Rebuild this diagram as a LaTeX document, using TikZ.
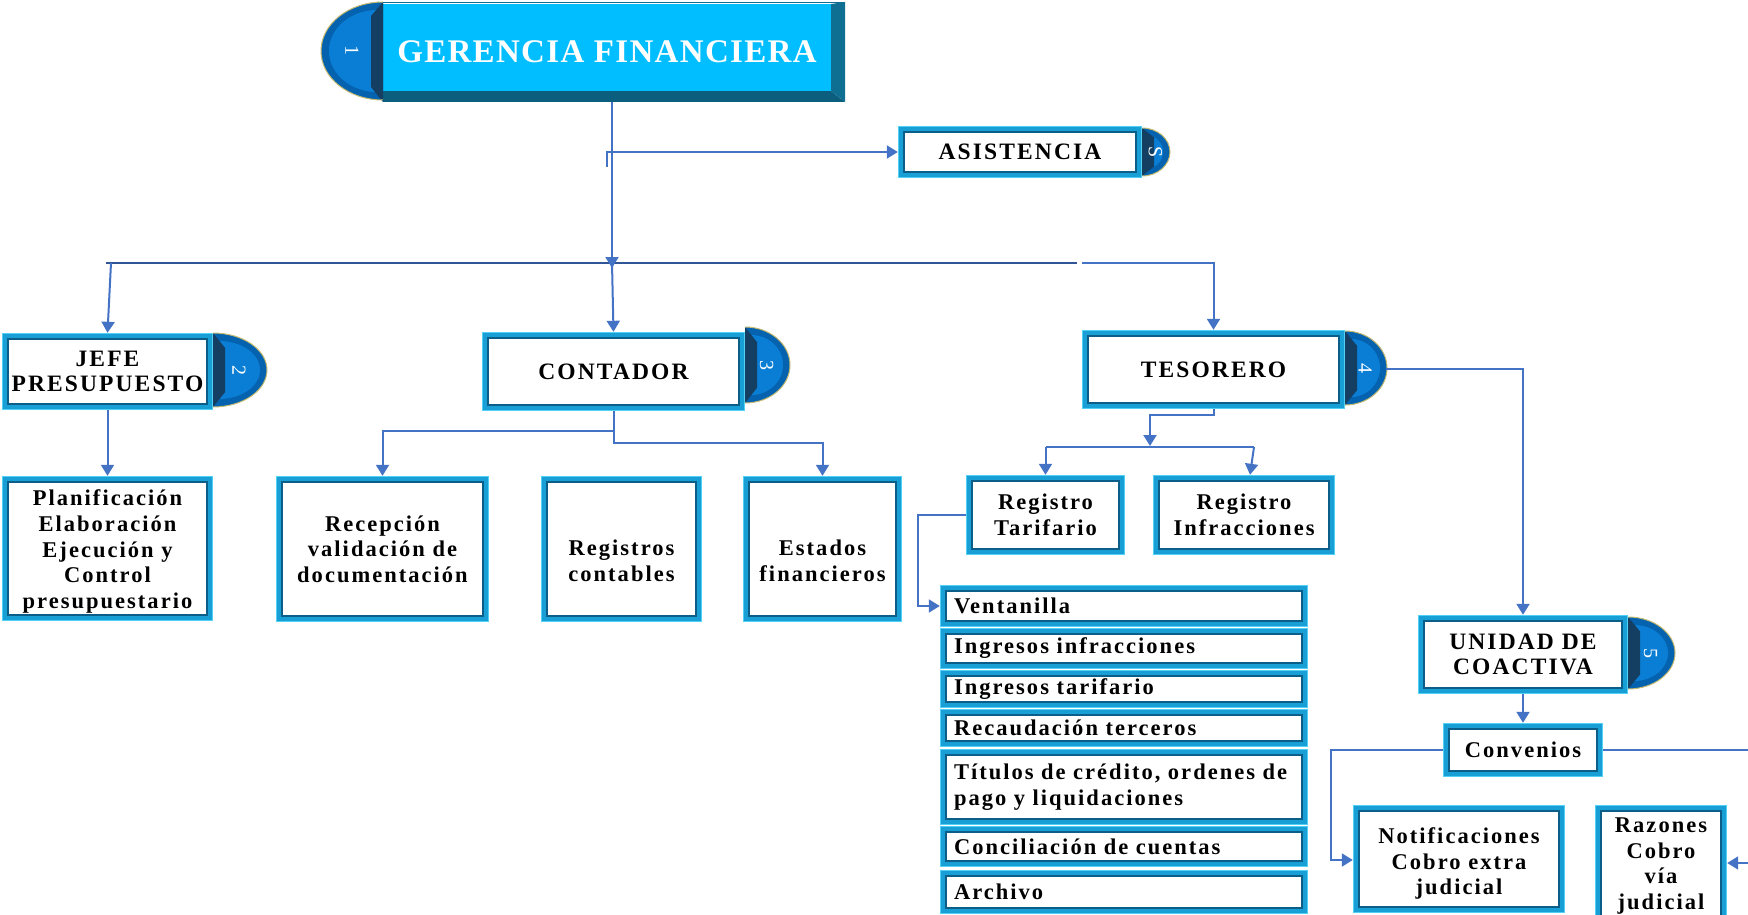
\documentclass[tikz,border=0pt]{standalone}
\usepackage{fontspec}
\setmainfont{Liberation Serif}
\newfontfamily\lsfont{Liberation Serif}[LetterSpace=9]
\newfontfamily\headfont{Liberation Serif}[LetterSpace=4]
\usetikzlibrary{arrows.meta}

\definecolor{connblue}{HTML}{4472C4}
\definecolor{busdark}{HTML}{2F5597}
\definecolor{bandmid}{HTML}{18A0D6}
\definecolor{banddark}{HTML}{0B5E88}
\definecolor{bandlight}{HTML}{52D0F5}
\definecolor{facecyan}{HTML}{00BEFF}
\definecolor{bevelR}{HTML}{0F6F93}
\definecolor{bevelB}{HTML}{0B5E7E}
\definecolor{navy}{HTML}{143F63}
\definecolor{badgeout}{HTML}{0562AE}
\definecolor{badgein}{HTML}{0A7ED4}
\definecolor{badgerim}{HTML}{C4BA72}

% half-ellipse tab on the right side of a box:
% #1 flat side x, #2 centre y, #3 x radius, #4 y radius, #5 node name, #6 number
\newcommand{\sidebadge}[6]{%
  \fill[badgeout] ({#1},{#2-#4}) arc[start angle=-90,end angle=90,x radius={#3},y radius={#4}] -- cycle;
  \fill[badgein] ({#1+6},{#2-#4+8}) arc[start angle=-90,end angle=90,x radius={#3-13},y radius={#4-8}] -- cycle;
  \fill[navy] ({#1},{#2-#4}) -- ({#1+12},{#2-#4*0.6}) -- ({#1+12},{#2+#4*0.6}) -- ({#1},{#2+#4}) -- cycle;
  \draw[badgerim, line width=1pt] ({#1},{#2-#4}) arc[start angle=-90,end angle=90,x radius={#3},y radius={#4}];
  \node[numtxt, rotate=-90] (#5) at ({#1+#3*0.48},{#2}) {#6};
}

\begin{document}
\begin{tikzpicture}[x=1pt, y=-1pt,
  box/.style={rectangle, fill=white, inner sep=0pt, align=center, text=black,
    font=\lsfont\bfseries\fontsize{22.5pt}{25.6pt}\selectfont},
  boxtext/.style={inner sep=0pt, align=center, text=black,
    font=\lsfont\bfseries\fontsize{22.5pt}{25.6pt}\selectfont},
  headbox/.style={box, font=\lsfont\bfseries\fontsize{23.5pt}{24.5pt}\selectfont},
  listbox/.style={box, minimum width=368pt, text width=340pt, align=left},
  conn/.style={draw=connblue, line width=2pt, -{Triangle[length=11pt,width=13pt]}},
  plain/.style={draw=connblue, line width=2pt},
  bus/.style={draw=busdark, line width=2.6pt},
  numtxt/.style={text=white, inner sep=0pt, font=\fontsize{20pt}{20pt}\selectfont}]

\useasboundingbox (0,0) rectangle (1748,915);

% ---------- top box: bevelled cyan block with tab ----------
\fill[bevelB] (383,102) -- (383,91) -- (831,91) -- (845,102) -- cycle;
\fill[bevelR] (831,4) -- (845,2) -- (845,102) -- (831,91) -- cycle;
\fill[facecyan] (383,4) rectangle (831,91);
\draw[bevelR, line width=1.2pt] (383,2.5) -- (845,2.5);
\fill[badgeout] (383,100) arc[start angle=90,end angle=270,x radius=62,y radius=49] -- cycle;
\fill[badgein] (377,92) arc[start angle=90,end angle=270,x radius=48,y radius=41] -- cycle;
\fill[navy] (383,2) -- (371,16) -- (371,87) -- (383,102) -- cycle;
\draw[badgerim, line width=1pt] (383,100) arc[start angle=90,end angle=270,x radius=62,y radius=49];
\node[numtxt, rotate=-90] (b1) at (352,51) {1};
\node[inner sep=0pt, minimum width=476pt, minimum height=100pt, text=white,
      font=\headfont\bfseries\fontsize{33pt}{34pt}\selectfont] (ger) at (607,52) {GERENCIA FINANCIERA};

% ---------- boxes ----------
\node[headbox, minimum width=244pt, minimum height=52pt] (asis) at (1020,152) {ASISTENCIA};
\node[headbox, minimum width=211pt, minimum height=77pt] (jefe) at (107.5,371.5) {JEFE\\PRESUPUESTO};
\node[headbox, minimum width=263pt, minimum height=79pt] (cont) at (613.5,371.5) {CONTADOR};
\node[headbox, minimum width=263pt, minimum height=79pt] (teso) at (1213.5,369.5) {TESORERO};

\node[box, minimum width=211pt, minimum height=145pt] (plan) at (107.5,548.5) {};
\node[box, minimum width=213pt, minimum height=146pt] (recep) at (382.5,549)
  {Recepción\\validación de\\documentación};
\node[box, minimum width=161pt, minimum height=146pt] (regc) at (621.5,549) {};
\node[box, minimum width=159pt, minimum height=146pt] (estf) at (822.5,549) {};

\node[box, minimum width=159pt, minimum height=80pt] (regt) at (1045.5,515) {Registro\\Tarifario};
\node[box, minimum width=182pt, minimum height=80pt] (regi) at (1244,515) {Registro\\Infracciones};

\node[listbox, minimum height=42pt] (vent) at (1124,606) {Ventanilla};
\node[listbox, minimum height=41pt] (ingi) at (1124,648.5) {Ingresos infracciones};
\node[listbox, minimum height=38pt] (ingt) at (1124,689) {Ingresos tarifario};
\node[listbox, minimum height=38pt] (recd) at (1124,728) {Recaudación terceros};
\node[listbox, minimum height=76pt] (titu) at (1124,787) {Títulos de crédito, ordenes de\\pago y liquidaciones};
\node[listbox, minimum height=41pt] (conc) at (1124,846.5) {Conciliación de cuentas};
\node[listbox, minimum height=44pt] (arch) at (1124,892) {Archivo};

\node[headbox, minimum width=210pt, minimum height=79pt] (unid) at (1523,654.5) {UNIDAD DE\\COACTIVA};
\node[box, minimum width=160pt, minimum height=54pt] (conv) at (1523,750) {Convenios};
\node[box, minimum width=212pt, minimum height=108pt] (noti) at (1459,859) {};
\node[box, minimum width=132pt, minimum height=122pt] (razo) at (1661,866) {Razones\\Cobro\\vía\\judicial};

% texts that sit below the middle of their boxes
\node[boxtext] (planT) at (107.5,551.5) {Planificación\\Elaboración\\Ejecución y\\Control\\presupuestario};
\node[boxtext] (regcT) at (621.5,561) {Registros\\contables};
\node[boxtext] (estfT) at (822.5,561) {Estados\\financieros};
\node[boxtext] (notiT) at (1459,863.5) {Notificaciones\\Cobro extra\\judicial};

% ---------- framed borders ----------
\foreach \n in {asis,jefe,cont,teso,plan,recep,regc,estf,regt,regi,
                vent,ingi,ingt,recd,titu,conc,arch,unid,conv,noti,razo}{
  \draw[bandlight, line width=1.5pt] ([shift={(0.75pt,-0.75pt)}]\n.north west) rectangle ([shift={(-0.75pt,0.75pt)}]\n.south east);
  \draw[bandmid, line width=4pt] ([shift={(3.5pt,-3.5pt)}]\n.north west) rectangle ([shift={(-3.5pt,3.5pt)}]\n.south east);
  \draw[banddark, line width=2pt] ([shift={(6.5pt,-6.5pt)}]\n.north west) rectangle ([shift={(-6.5pt,6.5pt)}]\n.south east);
}

% ---------- tabs ----------
\sidebadge{1142}{152}{28}{24}{bS}{S}
\sidebadge{213}{370}{54}{37}{b2}{2}
\sidebadge{745}{365}{45}{38}{b3}{3}
\sidebadge{1345}{368}{42}{37}{b4}{4}
\sidebadge{1628}{653}{47}{36}{b5}{5}

% ---------- connectors ----------
\coordinate (busL) at (106,263);
\coordinate (busR) at (1077,263);
\coordinate (busC) at (612,268);
\coordinate (jefeJ) at (111,263);
\coordinate (contJ) at (612,263);
\coordinate (tesoL) at (1082,263);
\coordinate (asisJ) at (607,167);

\draw[bus] (busL) -- (busR);
\draw[conn] (ger.south -| busC) -- (busC);
\draw[conn] (asisJ) -- (asisJ |- asis.west) -- (asis.west);
\draw[conn] (jefeJ) -- (jefe.north);
\draw[conn] (contJ) -- (cont.north);
\draw[conn] (tesoL) -| (teso.north);

\draw[conn] (jefe.south) -- (plan.north);
\draw[conn] (cont.south) -- ++(0,32) -| (estf.north);
\draw[conn] (cont.south |- 0,431) -| (recep.north);

\coordinate (tbusTip) at (1150,446);
\coordinate (tbL) at (1045.5,447);
\coordinate (tbR) at (1254,447);
\draw[conn] (teso.south) -- ++(0,6) -| (tbusTip);
\draw[plain] (tbL) -- (tbR);
\draw[conn] (tbL) -- (regt.north);
\draw[conn] (tbR) -- ([xshift=6pt]regi.north);
\draw[conn] (regt.west) -- ++(-48,0) |- (vent.west);

\coordinate (b4r) at (1386,369);
\draw[conn] (b4r) -| (unid.north);
\draw[conn] (unid.south) -- (conv.north);
\draw[conn] (conv.west) -- ++(-112,0) |- ([yshift=-1pt]noti.west);
\draw[conn] (conv.east) -- ++(170,0) |- ([yshift=3pt]razo.east);
\end{tikzpicture}
\end{document}
